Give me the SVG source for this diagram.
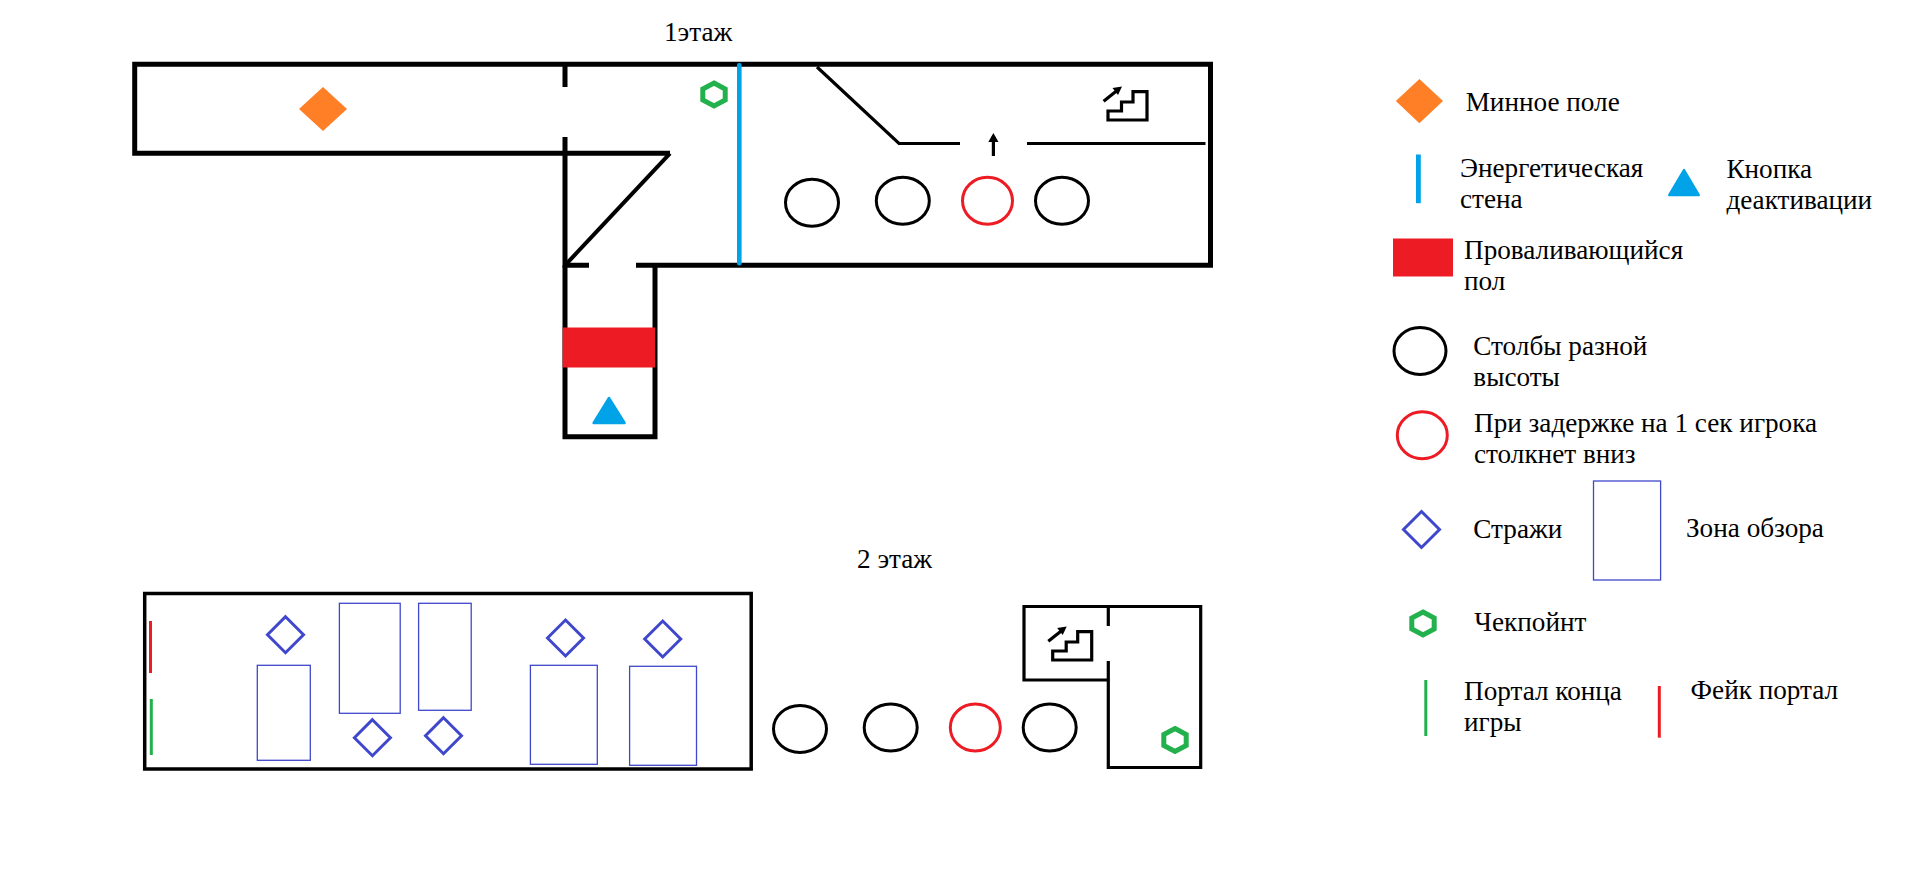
<svg xmlns="http://www.w3.org/2000/svg" width="1914" height="871" viewBox="0 0 1914 871">
<style>
text{font-family:"Liberation Serif","Times New Roman",serif;font-size:27.2px;fill:#000}
.w{fill:none;stroke:#000;stroke-width:5;stroke-linejoin:miter}
.w3{fill:none;stroke:#000;stroke-width:3.2}
.c{fill:none;stroke:#000;stroke-width:3}
.cr{fill:none;stroke:#ed1c24;stroke-width:3}
.g{fill:none;stroke:#3f48cc;stroke-width:3}
.z{fill:none;stroke:#3f48cc;stroke-width:1.3}
.h{fill:none;stroke:#22b14c;stroke-width:5}
.o{fill:#ff7f27}.b{fill:#00a2e8}.r{fill:#ed1c24}
</style>
<defs>
<polygon id="hex" points="0,-11.5 11.2,-5.5 11.2,5.5 0,11.5 -11.2,5.5 -11.2,-5.5" class="h"/>
<polygon id="guard" points="0,-18 18,0 0,18 -18,0" class="g"/>
<g id="stairs">
<path class="w3" d="M1147 91.7V120H1108V111H1121.5V102H1133V91.7Z"/>
<path class="w3" d="M1103.6 101.3L1119 89"/>
<path d="M1122 86.5L1118 95L1112.5 88Z"/>
</g>
</defs>
<rect width="1914" height="871" fill="#fff"/>
<g id="floor1">
<path class="w" d="M565 64.3H134.7V153.3H670"/>
<path class="w" d="M565 64.3H1210.5V265.3H636"/>
<path class="w" d="M589 265.3H565V137M565 64.3V87"/>
<path class="w" d="M655 265.3V436.7H565V265.3"/>
<path class="w" style="stroke-width:4" d="M670 153.3L565 265.3"/>
<path class="w3" d="M817 67L899 143.5H960M1027 143.5H1205.5"/>
<path class="w3" d="M993.4 156V136"/>
<path d="M993.4 133L998.5 142H988.3Z"/>
<use href="#stairs"/>
<rect class="r" x="562.7" y="327.5" width="92.3" height="40"/>
<path class="b" d="M609 398L624.6 423H593.6Z" stroke="#00a2e8" stroke-width="2.4" stroke-linejoin="round"/>
<rect class="b" x="737" y="63" width="4.6" height="202.5" rx="2"/>
<polygon class="o" points="323,87 347,109 323,131 299,109" id="mine"/>
<use href="#hex" x="714" y="94.5"/>
<ellipse class="c" cx="812" cy="202.7" rx="26.5" ry="23.5"/>
<ellipse class="c" cx="902.8" cy="200.7" rx="26.5" ry="23.5"/>
<ellipse class="cr" cx="987.5" cy="200.7" rx="25" ry="23.5"/>
<ellipse class="c" cx="1062" cy="200.7" rx="26.5" ry="23.5"/>
<text x="664" y="41">1этаж</text>
</g>
<g id="floor2">
<rect x="144.7" y="593.5" width="606.5" height="175.5" style="fill:none;stroke:#000;stroke-width:3.5"/>
<rect class="r" x="149" y="621" width="3" height="52"/>
<rect x="149.8" y="699" width="3" height="56" fill="#22b14c"/>
<rect class="z" x="257.3" y="665.3" width="53" height="95"/>
<rect class="z" x="339.4" y="603.3" width="60.8" height="110"/>
<rect class="z" x="418.6" y="603.3" width="52.6" height="107"/>
<rect class="z" x="530.4" y="665.3" width="66.9" height="99"/>
<rect class="z" x="629.6" y="666.3" width="66.9" height="99"/>
<use href="#guard" x="285.5" y="634.7"/>
<use href="#guard" x="372.4" y="737.7"/>
<use href="#guard" x="443.5" y="735.7"/>
<use href="#guard" x="565.5" y="638"/>
<use href="#guard" x="662.7" y="639"/>
<ellipse class="c" cx="800" cy="729" rx="26.5" ry="23.5"/>
<ellipse class="c" cx="890.7" cy="727.5" rx="26.5" ry="23.5"/>
<ellipse class="cr" cx="975.3" cy="727.5" rx="25" ry="23.5"/>
<ellipse class="c" cx="1049.7" cy="727.5" rx="26.5" ry="23.5"/>
<path class="w3" d="M1108.3 626V606.5H1024V680H1108.3"/>
<path class="w3" d="M1108.3 606.5H1200.7V767.5H1108.3V661"/>
<use href="#stairs" x="-55.3" y="540"/>
<use href="#hex" x="1175" y="740"/>
<text x="857" y="567.5">2 этаж</text>
</g>
<g id="legend">
<g id="legend-mine"><polygon class="o" points="1419.4,79 1443,101 1419.4,123.3 1395.8,101"/><text x="1465.7" y="110.7">Минное поле</text></g>
<g id="legend-energy"><rect class="b" x="1416" y="154.5" width="4.8" height="48.7"/><text x="1460" y="176.5">Энергетическая</text><text x="1460" y="207.5">стена</text></g>
<g id="legend-button"><path class="b" d="M1684 170L1698.8 195H1669.2Z" stroke="#00a2e8" stroke-width="2.4" stroke-linejoin="round"/><text x="1726.4" y="178.3">Кнопка</text><text x="1726.4" y="209.3">деактивации</text></g>
<g id="legend-floor"><rect class="r" x="1393" y="238.5" width="60" height="38"/><text x="1464" y="258.5">Проваливающийся</text><text x="1464" y="289.5">пол</text></g>
<g id="legend-pillar"><ellipse class="c" cx="1420" cy="351" rx="26" ry="23.5"/><text x="1473.3" y="355">Столбы разной</text><text x="1473.3" y="386">высоты</text></g>
<g id="legend-trap"><ellipse class="cr" cx="1422.3" cy="435.3" rx="25" ry="23.5"/><text x="1474" y="432">При задержке на 1 сек игрока</text><text x="1474" y="463">столкнет вниз</text></g>
<g id="legend-guard"><use href="#guard" x="1421.5" y="529.5"/><text x="1473.3" y="537.5">Стражи</text></g>
<g id="legend-zone"><rect class="z" x="1593.5" y="481" width="67.1" height="99"/><text x="1686" y="537">Зона обзора</text></g>
<g id="legend-checkpoint"><use href="#hex" x="1423" y="623.5"/><text x="1474.3" y="631">Чекпойнт</text></g>
<g id="legend-portal"><rect x="1424.3" y="680" width="3" height="56" fill="#22b14c"/><text x="1464" y="699.5">Портал конца</text><text x="1464" y="730.5">игры</text></g>
<g id="legend-fake"><rect class="r" x="1657.8" y="686" width="3" height="51.7"/><text x="1690.6" y="698.5">Фейк портал</text></g>
</g>
</svg>
